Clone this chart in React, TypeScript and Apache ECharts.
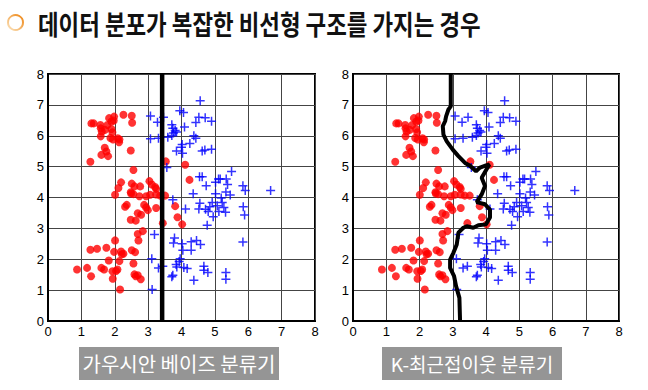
import React, { useEffect, useRef } from "react";
import * as echarts from "echarts";

const titleText = "데이터 분포가 복잡한 비선형 구조를 가지는 경우";
const leftLabel = "가우시안 베이즈 분류기";
const rightLabel = "K-최근접이웃 분류기";
const tickValues = [0, 1, 2, 3, 4, 5, 6, 7, 8];

const redPoints: number[][] = [
  [1.30, 6.40], [1.37, 6.40], [1.57, 6.35], [1.58, 6.24], [1.61, 6.14], [1.58, 5.98], [1.71, 6.19],
  [1.78, 6.35], [1.83, 6.57], [1.90, 6.46], [1.98, 6.62], [1.97, 6.49], [2.26, 6.68], [2.51, 6.65],
  [2.52, 6.42], [1.90, 6.22], [1.93, 6.11], [1.87, 5.93], [1.95, 5.88], [2.09, 5.92], [2.13, 5.79],
  [2.14, 5.88], [1.70, 5.61], [1.75, 5.49], [1.60, 5.38], [1.80, 5.34], [1.27, 5.16], [2.48, 5.52],
  [2.56, 4.89], [3.53, 5.17], [4.11, 5.06], [4.24, 4.57],
  [2.19, 4.49], [2.11, 4.31], [2.51, 4.45], [2.48, 4.17], [2.59, 4.36], [2.76, 4.36], [2.74, 4.04],
  [3.04, 4.53], [3.11, 4.42], [3.21, 4.34], [3.24, 4.28], [2.01, 4.09], [2.94, 4.04], [3.36, 4.06],
  [3.51, 4.06], [2.49, 4.13], [2.56, 4.11], [3.06, 4.09], [3.24, 4.10],
  [2.31, 3.70], [2.36, 3.76], [2.88, 3.76], [2.94, 3.68], [2.99, 3.59], [2.69, 3.49], [2.79, 3.44],
  [3.24, 3.66], [3.81, 3.72], [3.88, 3.36], [4.02, 3.13], [3.44, 3.17], [2.48, 3.28], [2.63, 3.25],
  [2.69, 2.82], [2.71, 2.61], [2.84, 2.91], [2.01, 2.61], [1.27, 2.31], [1.47, 2.34], [1.75, 2.37],
  [1.98, 2.24], [2.19, 2.25], [2.26, 2.18], [2.21, 2.16], [2.51, 2.29], [2.61, 2.23], [1.82, 1.96],
  [2.14, 1.94], [2.56, 1.86], [0.87, 1.67], [1.17, 1.72], [1.60, 1.72], [1.68, 1.67], [1.93, 1.61],
  [2.04, 1.62], [2.08, 1.67], [2.59, 1.51], [2.63, 1.45], [2.69, 1.48], [1.29, 1.45], [1.94, 1.37],
  [2.78, 1.35], [2.16, 1.02],
];

const bluePoints: number[][] = [
  [4.56, 7.13], [3.95, 6.81], [4.06, 6.75], [3.07, 6.64], [3.28, 6.44], [3.46, 6.60], [4.52, 6.60],
  [4.71, 6.58], [4.90, 6.47], [4.43, 6.43], [3.71, 6.36], [3.74, 6.24], [3.81, 6.17], [3.76, 6.09],
  [3.85, 6.12], [4.09, 6.28], [3.07, 5.90], [3.31, 5.92], [3.59, 5.95], [3.71, 6.01], [4.37, 6.00],
  [4.43, 5.92], [4.02, 5.72], [4.00, 5.63], [4.25, 5.75], [3.85, 5.51], [4.03, 5.43], [4.62, 5.51],
  [4.70, 5.54], [4.90, 5.56], [3.56, 4.97], [4.54, 4.67], [4.62, 4.67], [5.50, 4.84], [5.11, 4.60],
  [5.16, 4.60], [5.34, 4.60], [5.02, 4.49], [5.38, 4.42], [4.74, 4.38], [5.84, 4.38], [5.91, 4.23],
  [6.67, 4.23], [4.35, 4.12], [5.02, 4.12], [5.33, 4.18], [5.46, 4.08],
  [3.74, 3.93], [4.12, 3.63], [4.55, 3.81], [4.52, 3.63], [4.80, 3.55], [4.85, 3.70], [4.92, 3.84],
  [5.07, 3.73], [5.12, 3.55], [4.72, 3.62], [5.19, 3.98], [5.22, 3.84], [5.27, 3.68], [5.32, 3.52],
  [5.85, 3.70], [5.89, 3.43], [4.95, 3.38], [4.77, 3.10], [3.19, 2.80], [3.79, 2.69], [3.76, 2.53],
  [4.02, 2.50], [4.04, 2.29], [4.29, 2.57], [4.45, 2.61], [4.57, 2.48], [4.29, 2.29], [5.84, 2.56],
  [3.11, 2.02], [3.96, 2.02], [3.93, 1.93], [3.84, 1.83], [3.86, 1.75], [3.31, 1.72], [3.44, 1.77],
  [4.07, 1.73], [4.17, 1.70], [4.67, 1.77], [4.67, 1.64], [4.79, 1.57], [3.74, 1.48], [3.71, 1.43],
  [4.37, 1.32], [5.33, 1.57], [5.33, 1.35], [3.12, 1.02],
];

const bayesBoundary: number[][] = [[3.42, 0], [3.42, 8]];

const knnBoundary: number[][] = [
  [2.94, 8], [2.94, 6.95], [2.87, 6.85], [2.80, 6.63], [2.77, 6.47], [2.70, 6.31], [2.72, 6.04],
  [2.82, 5.82], [3.0, 5.55], [3.17, 5.34], [3.37, 5.12], [3.52, 5.03], [3.70, 4.85], [3.82, 4.97],
  [4.0, 5.04], [4.10, 5.07], [3.87, 4.64], [3.97, 4.37], [3.87, 4.10], [3.72, 3.85], [3.97, 3.78],
  [4.12, 3.61], [4.12, 3.35], [4.0, 3.13], [3.77, 3.10], [3.62, 3.02], [3.42, 3.07], [3.32, 3.02],
  [3.17, 2.86], [3.12, 2.48], [3.02, 2.21], [2.92, 1.99], [2.92, 1.72], [3.04, 1.45], [3.10, 1.13],
  [3.20, 0.75], [3.22, 0],
];

const PLUS = "path://M3.75,0h1.5v3.75h3.75v1.5h-3.75v3.75h-1.5v-3.75h-3.75v-1.5h3.75z";

export default function App() {
  const ref = useRef<HTMLDivElement>(null);
  useEffect(() => {
    document.body.style.margin = "0";
    if (!ref.current) return;
    const chart = echarts.init(ref.current, null, { renderer: "svg" });
    const axisCommon = (gridIndex: number) => ({
      gridIndex,
      type: "value",
      min: tickValues[0],
      max: tickValues[tickValues.length - 1],
      interval: 1,
      axisLine: { show: true, lineStyle: { color: "#000", width: 2 } },
      axisTick: { show: false },
      splitLine: { show: true, lineStyle: { color: "#444", width: 1 } },
      axisLabel: { color: "#000", fontSize: 13, fontFamily: "Liberation Sans", margin: 4 },
    });
    const gridCommon = { show: true, borderColor: "#000", borderWidth: 2, backgroundColor: "#fff" };
    const series: any[] = [];
    [0, 1].forEach((g) => {
      series.push({
        type: "scatter", xAxisIndex: g, yAxisIndex: g, data: redPoints,
        symbol: "circle", symbolSize: 8, itemStyle: { color: "#ff0000" }, z: 3,
      });
      series.push({
        type: "scatter", xAxisIndex: g, yAxisIndex: g, data: bluePoints,
        symbol: PLUS, symbolSize: 9, itemStyle: { color: "#0000ff" }, z: 3,
      });
      series.push({
        type: "line", xAxisIndex: g, yAxisIndex: g, data: g === 0 ? bayesBoundary : knnBoundary,
        showSymbol: false, symbol: "none", lineStyle: { color: "#000", width: g === 0 ? 4.5 : 4 }, z: 4,
      });
    });
    chart.setOption({
      animation: false,
      backgroundColor: "#fff",
      grid: [
        { ...gridCommon, left: 48, top: 74, width: 267, height: 247 },
        { ...gridCommon, left: 353, top: 74, width: 266, height: 247 },
      ],
      xAxis: [axisCommon(0), axisCommon(1)],
      yAxis: [axisCommon(0), axisCommon(1)],
      series,
      graphic: [
        {
          type: "circle",
          shape: { cx: 15.5, cy: 22.5, r: 7.5 },
          style: {
            fill: "none",
            lineWidth: 2,
            stroke: new echarts.graphic.LinearGradient(0, 1, 1, 0, [
              { offset: 0, color: "#fbe3bd" },
              { offset: 1, color: "#ee8410" },
            ]),
          },
        },
        {
          type: "text",
          x: 38,
          y: 23,
          scaleX: 0.83,
          style: {
            text: titleText,
            fontSize: 27,
            fontWeight: "bold",
            fontFamily: "Noto Sans CJK KR",
            fill: "#111",
            verticalAlign: "middle",
            align: "left",
          },
        },
        { type: "rect", shape: { x: 79, y: 347, width: 200, height: 33 }, style: { fill: "#959595" } },
        {
          type: "text", x: 179, y: 363.5,
          style: { text: leftLabel, fontSize: 20, fontFamily: "Noto Sans CJK KR", fill: "#fff", align: "center", verticalAlign: "middle" },
        },
        { type: "rect", shape: { x: 382, y: 347, width: 180, height: 33 }, style: { fill: "#959595" } },
        {
          type: "text", x: 472, y: 363.5,
          style: { text: rightLabel, fontSize: 19, fontFamily: "Noto Sans CJK KR", fill: "#fff", align: "center", verticalAlign: "middle" },
        },
      ],
    });
    return () => chart.dispose();
  }, []);
  return <div ref={ref} style={{ width: 648, height: 390 }} />;
}
